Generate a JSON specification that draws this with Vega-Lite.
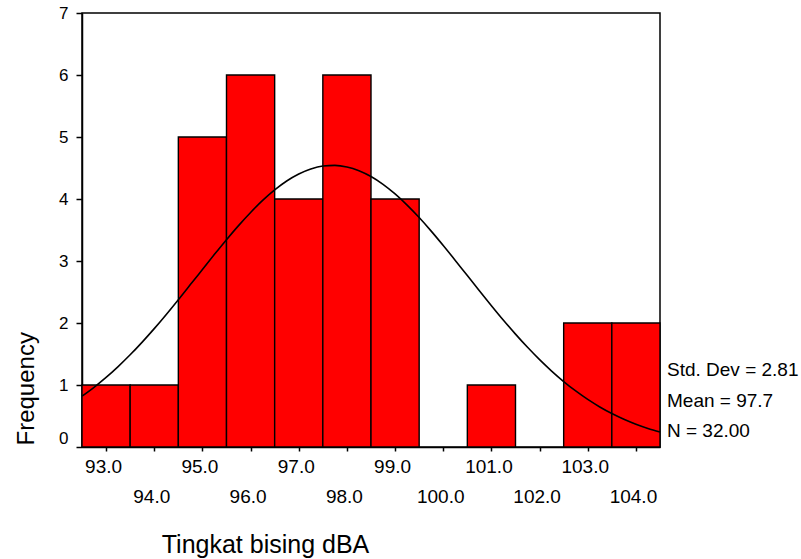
{
  "$schema": "https://vega.github.io/schema/vega-lite/v6.json",
  "width": 578,
  "height": 434,
  "autosize": {"type": "none"},
  "padding": {"left": 82, "top": 13, "right": 141, "bottom": 112},
  "background": "white",
  "config": {
    "font": "Liberation Sans",
    "view": {"stroke": "black", "strokeWidth": 1.5},
    "axis": {"domainColor": "black", "tickColor": "black", "labelColor": "black", "titleColor": "black", "grid": false, "labelFont": "Liberation Sans", "titleFont": "Liberation Sans"}
  },
  "datasets": {
    "bins": [
      {"start": 92.5, "end": 93.5, "count": 1},
      {"start": 93.5, "end": 94.5, "count": 1},
      {"start": 94.5, "end": 95.5, "count": 5},
      {"start": 95.5, "end": 96.5, "count": 6},
      {"start": 96.5, "end": 97.5, "count": 4},
      {"start": 97.5, "end": 98.5, "count": 6},
      {"start": 98.5, "end": 99.5, "count": 4},
      {"start": 100.5, "end": 101.5, "count": 1},
      {"start": 102.5, "end": 103.5, "count": 2},
      {"start": 103.5, "end": 104.5, "count": 2}
    ],
    "curve": [
      {"x": 92.5, "y": 0.820}, {"x": 92.75, "y": 0.963}, {"x": 93.0, "y": 1.122}, {"x": 93.25, "y": 1.297},
      {"x": 93.5, "y": 1.487}, {"x": 93.75, "y": 1.692}, {"x": 94.0, "y": 1.909}, {"x": 94.25, "y": 2.138},
      {"x": 94.5, "y": 2.376}, {"x": 94.75, "y": 2.619}, {"x": 95.0, "y": 2.863}, {"x": 95.25, "y": 3.107},
      {"x": 95.5, "y": 3.344}, {"x": 95.75, "y": 3.571}, {"x": 96.0, "y": 3.783}, {"x": 96.25, "y": 3.977},
      {"x": 96.5, "y": 4.147}, {"x": 96.75, "y": 4.291}, {"x": 97.0, "y": 4.404}, {"x": 97.25, "y": 4.485},
      {"x": 97.5, "y": 4.532}, {"x": 97.75, "y": 4.542}, {"x": 98.0, "y": 4.517}, {"x": 98.25, "y": 4.457},
      {"x": 98.5, "y": 4.363}, {"x": 98.75, "y": 4.237}, {"x": 99.0, "y": 4.082}, {"x": 99.25, "y": 3.902},
      {"x": 99.5, "y": 3.701}, {"x": 99.75, "y": 3.482}, {"x": 100.0, "y": 3.250}, {"x": 100.25, "y": 3.010},
      {"x": 100.5, "y": 2.765}, {"x": 100.75, "y": 2.521}, {"x": 101.0, "y": 2.280}, {"x": 101.25, "y": 2.045},
      {"x": 101.5, "y": 1.821}, {"x": 101.75, "y": 1.608}, {"x": 102.0, "y": 1.409}, {"x": 102.25, "y": 1.225},
      {"x": 102.5, "y": 1.056}, {"x": 102.75, "y": 0.904}, {"x": 103.0, "y": 0.767}, {"x": 103.25, "y": 0.646},
      {"x": 103.5, "y": 0.540}, {"x": 103.75, "y": 0.448}, {"x": 104.0, "y": 0.368}, {"x": 104.25, "y": 0.300},
      {"x": 104.5, "y": 0.243}
    ]
  },
  "resolve": {"axis": {"x": "independent"}},
  "layer": [
    {
      "data": {"name": "bins"},
      "mark": {"type": "bar", "color": "#ff0000", "stroke": "black", "strokeWidth": 1.4},
      "encoding": {
        "x": {
          "field": "start", "type": "quantitative",
          "scale": {"domain": [92.5, 104.5], "nice": false, "zero": false},
          "axis": {
            "orient": "bottom", "title": null,
            "values": [93, 94, 95, 96, 97, 98, 99, 100, 101, 102, 103, 104],
            "labelExpr": "datum.value % 2 == 1 ? format(datum.value, '.1f') : ''",
            "tickSize": 4, "tickWidth": 1.5, "domainWidth": 1.5,
            "labelPadding": 6, "labelFontSize": 19, "labelFlush": false, "labelOverlap": false, "labelOffset": -3
          }
        },
        "x2": {"field": "end"},
        "y": {
          "field": "count", "type": "quantitative",
          "scale": {"domain": [0, 7], "nice": false},
          "axis": {
            "values": [0, 1, 2, 3, 4, 5, 6, 7], "format": "d",
            "tickSize": 6, "tickWidth": 1.5, "domainWidth": 1.5,
            "labelPadding": 8, "labelFontSize": 17, "labelFlush": false, "labelOverlap": false,
            "labelOffset": {"condition": {"test": "datum.value == 0", "value": -9}, "value": 0},
            "title": "Frequency", "titleFontSize": 24, "titleFontWeight": "normal",
            "titleAngle": -90, "titleAlign": "left", "titleBaseline": "alphabetic",
            "titleX": -49, "titleY": 432
          }
        },
        "y2": {"datum": 0}
      }
    },
    {
      "data": {"name": "curve"},
      "mark": {"type": "line", "color": "black", "strokeWidth": 1.6, "interpolate": "monotone"},
      "encoding": {
        "x": {
          "field": "x", "type": "quantitative",
          "axis": {
            "orient": "bottom",
            "values": [94, 96, 98, 100, 102, 104],
            "format": ".1f", "ticks": false, "domain": false,
            "labelPadding": 40, "labelFontSize": 19, "labelFlush": false, "labelOverlap": false, "labelOffset": -3,
            "title": "Tingkat bising dBA", "titleFontSize": 25, "titleFontWeight": "normal",
            "titleAlign": "center", "titleBaseline": "alphabetic", "titleX": 183, "titleY": 105
          }
        },
        "y": {"field": "y", "type": "quantitative"}
      }
    },
    {
      "data": {"values": [{"n": 32}]},
      "mark": {
        "type": "text", "text": ["Std. Dev = 2.81", "Mean = 97.7", "N = 32.00"],
        "align": "left", "baseline": "alphabetic", "lineHeight": 30.5, "dx": 7, "dy": -71,
        "fontSize": 19, "font": "Liberation Sans", "color": "black"
      },
      "encoding": {
        "x": {"datum": 104.5, "type": "quantitative", "axis": null},
        "y": {"datum": 0, "type": "quantitative"}
      }
    }
  ]
}
